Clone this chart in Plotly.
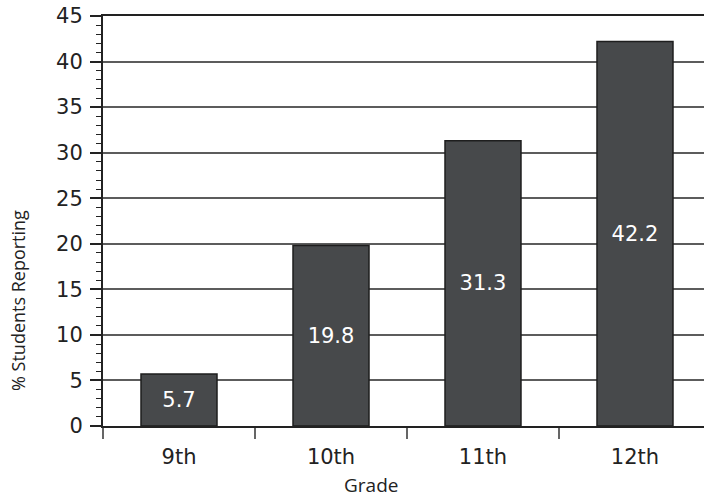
import plotly.graph_objects as go

# Share of students reporting, by grade
grades = ["9th", "10th", "11th", "12th"]
percent_reporting = [5.7, 19.8, 31.3, 42.2]
value_labels = ["5.7", "19.8", "31.3", "42.2"]

TICK_FONT = "DejaVu Sans"
TITLE_FONT = "Open Sans"
TEXT = "#222222"
AXIS_DARK = "#222222"
GRID = "#5c5c5c"

fig = go.Figure(
    go.Bar(
        x=grades,
        y=percent_reporting,
        text=value_labels,
        textposition="inside",
        insidetextanchor="middle",
        textangle=0,
        textfont=dict(family=TICK_FONT, size=21, color="white"),
        marker=dict(color="#47494b", line=dict(color="#1e1e1e", width=1.5)),
        width=0.5,
    )
)

fig.update_layout(
    width=704,
    height=501,
    margin=dict(l=103, r=0, t=16, b=75),
    paper_bgcolor="white",
    plot_bgcolor="white",
    showlegend=False,
    font=dict(family=TICK_FONT, color=TEXT),
    uniformtext=dict(mode="show", minsize=10),
)

fig.update_xaxes(
    type="category",
    range=[-0.5, 3.454],
    tickson="boundaries",
    ticks="outside",
    ticklen=11,
    tickwidth=1.5,
    tickcolor="#666666",
    ticklabelstandoff=11,
    tickfont=dict(family=TICK_FONT, size=21, color=TEXT),
    showline=True,
    linecolor=AXIS_DARK,
    linewidth=2,
    mirror=True,
    showgrid=False,
)

fig.update_yaxes(
    range=[0, 45],
    dtick=5,
    tick0=0,
    ticks="outside",
    ticklen=11,
    tickwidth=1.5,
    tickcolor=AXIS_DARK,
    ticklabelstandoff=3,
    tickfont=dict(family=TICK_FONT, size=21, color=TEXT),
    showline=True,
    linecolor=AXIS_DARK,
    linewidth=2,
    showgrid=True,
    gridcolor=GRID,
    gridwidth=1.5,
    zeroline=False,
    minor=dict(dtick=1, ticks="outside", ticklen=5, tickwidth=1.2, tickcolor=AXIS_DARK, showgrid=False),
)

# Axis titles, placed as paper-anchored annotations
fig.add_annotation(
    text="Grade", xref="paper", yref="paper", x=0.446, y=0, yshift=-59,
    xanchor="center", yanchor="middle", showarrow=False,
    font=dict(family=TITLE_FONT, size=19, color=TEXT),
)
fig.add_annotation(
    text="% Students Reporting", xref="paper", yref="paper", x=0, xshift=-85,
    y=0.3, yshift=2, yanchor="middle", xanchor="center", textangle=-90, showarrow=False,
    font=dict(family=TITLE_FONT, size=18, color=TEXT),
)

fig.write_html("out.html")
